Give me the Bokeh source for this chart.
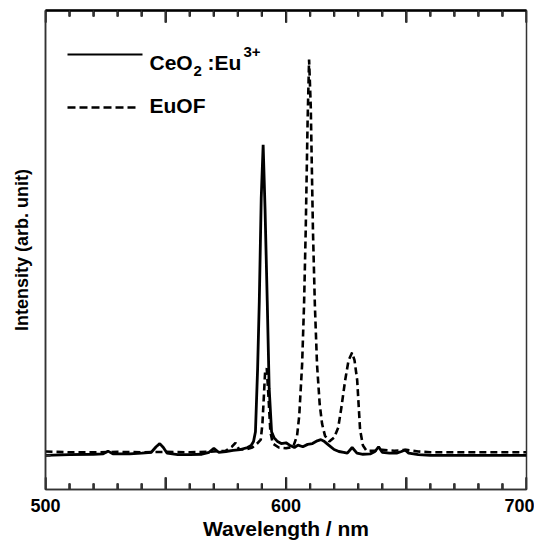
from bokeh.plotting import figure
from bokeh.models import Range1d, FixedTicker, LinearAxis, Label, Arrow
from bokeh.embed import file_html
from bokeh.resources import INLINE

# ---- data ----
ceo2_wl = [500, 510, 520, 524, 526, 528, 535, 540, 544, 546,
           547.5, 549, 550.5, 555, 560, 565, 568, 570, 572, 575,
           578, 581, 584, 585.5, 586.5, 587.3, 588.2, 588.9, 589.7, 590.5,
           591.3, 592.2, 593, 594, 595, 596.5, 598, 600, 601.5, 603.5,
           605, 607, 609, 611, 613, 614.5, 616, 618, 620, 622,
           624, 625.5, 627.5, 629.5, 632, 635, 637, 638.5, 640, 643,
           646, 648, 649.5, 651, 655, 660, 680, 700]
ceo2_int = [0.000, 0.002, 0.003, 0.004, 0.011, 0.004, 0.004, 0.006, 0.008, 0.022,
            0.030, 0.020, 0.006, 0.002, 0.002, 0.003, 0.008, 0.018, 0.008, 0.010,
            0.013, 0.015, 0.020, 0.025, 0.035, 0.060, 0.220, 0.390, 0.650, 0.785,
            0.620, 0.390, 0.170, 0.060, 0.045, 0.035, 0.030, 0.032, 0.026, 0.020,
            0.026, 0.022, 0.028, 0.030, 0.037, 0.040, 0.035, 0.025, 0.015, 0.010,
            0.008, 0.006, 0.020, 0.006, 0.003, 0.004, 0.010, 0.022, 0.008, 0.006,
            0.006, 0.010, 0.014, 0.006, 0.002, 0.000, 0.000, 0.000]

euof_wl = [500, 510, 520, 530, 540, 550, 560, 570, 575,
           577.5, 579, 580.5, 583, 586, 588, 589.5, 590.2, 590.8, 591.3,
           592, 592.7, 593.5, 594.5, 597, 600, 603, 604.6, 605.5, 606.7,
           607.5, 608.2, 609, 609.6, 610.3, 611.2, 612, 612.9, 614, 615,
           616.2, 618, 620, 621.7, 623, 624.6, 626, 627.5, 628.5, 629.6,
           630.8, 632, 633.5, 637, 640, 645, 650, 655, 660, 680,
           700]
euof_int = [0.010, 0.008, 0.008, 0.009, 0.008, 0.009, 0.008, 0.010, 0.012,
            0.022, 0.032, 0.015, 0.015, 0.020, 0.030, 0.040, 0.080, 0.150, 0.210,
            0.220, 0.150, 0.060, 0.030, 0.020, 0.018, 0.022, 0.050, 0.100, 0.230,
            0.380, 0.570, 0.850, 1.000, 0.880, 0.570, 0.380, 0.230, 0.130, 0.080,
            0.050, 0.035, 0.045, 0.070, 0.120, 0.190, 0.240, 0.260, 0.240, 0.190,
            0.065, 0.025, 0.012, 0.012, 0.014, 0.012, 0.014, 0.010, 0.008, 0.008,
            0.008]

x_major = [500, 550, 600, 650, 700]
x_minor = [510, 520, 530, 540, 560, 570, 580, 590, 610, 620, 630, 640, 660, 670, 680, 690]
x_labels = {500: "500", 550: "", 600: "600", 650: "", 700: "700"}
y_ticks = [0.0]
legend_main = ["CeO", ":Eu", "EuOF"]
legend_sub = "2"
legend_sup = "3+"

X_LO, X_HI = 500, 700
Y_LO, Y_HI = -0.086, 1.124

FONT = "Liberation Sans"
AX = "#333333"

W, H = 534, 550
BL, BR, BT, BB = 45, 8, 10, 61
FRAME_W, FRAME_H = W - BL - BR, H - BT - BB

p = figure(width=W, height=H, output_backend="svg", toolbar_location=None,
           x_axis_location=None, y_axis_location=None,
           min_border_left=BL, min_border_right=BR, min_border_top=BT, min_border_bottom=BB)
p.x_range = Range1d(X_LO, X_HI)
p.y_range = Range1d(Y_LO, Y_HI)
p.grid.visible = False
p.outline_line_color = AX
p.outline_line_width = 1.5
p.background_fill_alpha = 0
p.border_fill_color = "white"

r_eu = p.line(euof_wl, euof_int, line_color="black", line_width=2.6, line_dash="7 4")
r_ce = p.line(ceo2_wl, ceo2_int, line_color="black", line_width=2.8)

# inward tick marks: one broken line through all ticks (lengths in pixels -> data units)
ypx = (Y_HI - Y_LO) / FRAME_H
xpx = (X_HI - X_LO) / FRAME_W
nan = float("nan")
tx, ty = [], []
for ticks, length in ((x_major, 12), (x_minor, 6)):
    for t in ticks:
        tx += [t, t, nan, t, t, nan]
        ty += [Y_LO, Y_LO + length * ypx, nan, Y_HI, Y_HI - length * ypx, nan]
for t in y_ticks:
    tx += [X_LO, X_LO + 5 * xpx, nan]
    ty += [t, t, nan]
p.line(tx, ty, line_color="#1a1a1a", line_width=2.0)

# the same ticks again as thin filled bars
half_w = 0.9 * xpx
q_l, q_r, q_b, q_t = [], [], [], []
for ticks, length in ((x_major, 12), (x_minor, 6)):
    for t in ticks:
        q_l += [t - half_w, t - half_w]
        q_r += [t + half_w, t + half_w]
        q_b += [Y_LO, Y_HI - length * ypx]
        q_t += [Y_LO + length * ypx, Y_HI]
p.quad(left=q_l, right=q_r, bottom=q_b, top=q_t, fill_color="#1a1a1a", line_color=None)


def style_x(ax, labels=True):
    ax.ticker = FixedTicker(ticks=x_major, minor_ticks=x_minor)
    ax.major_tick_in = 12
    ax.major_tick_out = 0
    ax.minor_tick_in = 6
    ax.minor_tick_out = 0
    ax.major_tick_line_color = AX
    ax.minor_tick_line_color = AX
    ax.major_tick_line_width = 1.6
    ax.minor_tick_line_width = 1.6
    ax.axis_line_color = AX
    ax.axis_line_width = 1.5
    ax.major_label_text_font = FONT
    ax.major_label_text_font_style = "bold"
    ax.major_label_text_font_size = "18px"
    ax.major_label_text_color = "black"
    if labels:
        ax.major_label_overrides = x_labels
        ax.major_label_standoff = 9
    else:
        ax.major_label_text_alpha = 0
        ax.major_label_text_font_size = "1px"
        ax.major_label_standoff = 0


xb = LinearAxis(axis_label="Wavelength / nm")
style_x(xb)
xb.axis_label_text_font = FONT
xb.axis_label_text_font_style = "bold"
xb.axis_label_text_font_size = "21px"
xb.axis_label_text_color = "black"
xb.axis_label_standoff = 2
p.add_layout(xb, "below")

xt = LinearAxis()
style_x(xt, labels=False)
xt.axis_line_color = "black"
xt.axis_line_width = 2.5
p.add_layout(xt, "above")

yl = LinearAxis(axis_label="Intensity (arb. unit)")
yl.ticker = FixedTicker(ticks=y_ticks, minor_ticks=[])
yl.major_label_overrides = {0: ""}
yl.major_tick_in = 5
yl.major_tick_out = 0
yl.major_tick_line_color = AX
yl.major_tick_line_width = 1.6
yl.axis_line_color = AX
yl.axis_line_width = 1.5
yl.axis_label_text_font = FONT
yl.axis_label_text_font_style = "bold"
yl.axis_label_text_font_size = "18px"
yl.axis_label_text_color = "black"
yl.axis_label_standoff = 14
p.add_layout(yl, "left")

# ---- legend (drawn by hand so that sub/superscripts look right) ----
p.add_layout(Arrow(end=None, start_units="screen", end_units="screen",
                   x_start=22, y_start=435, x_end=97, y_end=435,
                   line_color="black", line_width=2.2))
p.add_layout(Arrow(end=None, start_units="screen", end_units="screen",
                   x_start=22, y_start=382, x_end=92, y_end=382,
                   line_color="black", line_width=2.4, line_dash="8 4"))


def lab(x, y, t, size):
    p.add_layout(Label(x=x, y=y, x_units="screen", y_units="screen", text=t,
                       text_font=FONT, text_font_style="bold",
                       text_font_size=size, text_color="black",
                       text_baseline="alphabetic", text_align="left"))


lab(104, 427, legend_main[0], "21px")
lab(148, 419, legend_sub, "15px")
lab(162, 427, legend_main[1], "21px")
lab(198, 438, legend_sup, "15px")
lab(104, 384, legend_main[2], "21px")

open("out.html", "w").write(file_html(p, INLINE))
